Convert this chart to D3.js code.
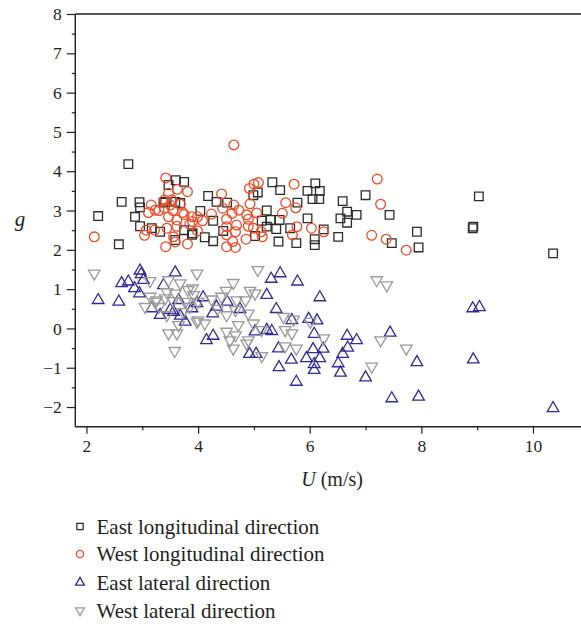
<!DOCTYPE html>
<html>
<head>
<meta charset="utf-8">
<script src="https://cdn.jsdelivr.net/npm/d3@7/dist/d3.min.js"></script>
<style>
  html, body { margin: 0; padding: 0; background: #fff; }
  svg { display: block; }
  text { font-family: "Liberation Serif", "DejaVu Serif", serif; fill: #231f20; }
</style>
</head>
<body>
<svg id="chart" width="581" height="627"></svg>
<script>
// [U (m/s), g]
const eastLongitudinal = [
  [2.21,2.86],[2.58,2.14],[2.63,3.22],[2.75,4.18],[2.87,2.84],[2.95,3.21],[2.96,3.08],[2.96,2.6],
  [3.17,2.55],[3.32,2.46],[3.38,3.2],[3.41,3.22],[3.47,3.65],[3.59,3.22],[3.59,2.25],[3.6,3.77],
  [3.68,3.19],[3.75,3.73],[3.75,2.5],[3.89,2.38],[3.9,2.42],[4.04,2.99],[4.12,2.32],[4.18,3.37],
  [4.27,2.74],[4.27,2.22],[4.33,3.22],[4.45,2.48],[4.52,3.2],[4.99,3.39],[5.02,2.35],[5.07,3.46],
  [5.14,2.74],[5.23,3.0],[5.23,2.59],[5.3,2.76],[5.33,3.72],[5.4,2.53],[5.44,2.21],[5.46,2.76],
  [5.47,3.52],[5.65,2.55],[5.76,2.17],[5.78,3.2],[5.96,3.5],[5.96,2.8],[6.05,3.29],[6.09,2.27],
  [6.09,2.12],[6.1,3.69],[6.17,3.29],[6.18,3.5],[6.25,2.52],[6.51,2.33],[6.55,2.8],[6.59,3.24],
  [6.67,2.97],[6.67,2.69],[6.84,2.89],[7.0,3.39],[7.43,2.89],[7.47,2.17],[7.92,2.46],[7.95,2.06],
  [8.93,2.59],[8.92,2.55],[9.03,3.36],[10.36,1.91]
];
const westLongitudinal = [
  [2.14,2.33],[3.04,2.37],[3.07,2.5],[3.11,2.95],[3.16,3.14],[3.22,2.5],[3.23,3.01],[3.3,3.0],
  [3.4,3.27],[3.4,3.06],[3.42,3.83],[3.42,2.08],[3.44,2.55],[3.47,3.44],[3.47,2.84],[3.5,3.14],
  [3.53,3.27],[3.55,3.0],[3.56,2.33],[3.59,2.2],[3.62,2.76],[3.62,2.6],[3.63,3.54],[3.68,3.16],
  [3.72,2.95],[3.75,2.9],[3.81,3.48],[3.81,2.15],[3.85,2.65],[3.89,2.84],[3.9,2.72],[3.99,2.84],
  [3.99,2.48],[4.08,2.74],[4.24,2.91],[4.42,3.42],[4.44,3.06],[4.51,2.78],[4.51,2.59],[4.51,2.38],
  [4.51,2.08],[4.61,2.93],[4.62,2.21],[4.64,4.67],[4.64,3.14],[4.67,2.46],[4.67,2.06],[4.69,2.63],
  [4.73,3.01],[4.86,2.27],[4.87,2.89],[4.9,2.78],[4.9,2.6],[4.92,3.56],[4.93,3.17],[4.99,2.55],
  [5.0,3.67],[5.05,2.94],[5.08,3.71],[5.13,2.46],[5.15,2.33],[5.51,2.93],[5.57,3.2],[5.69,2.38],
  [5.72,3.67],[5.75,3.07],[5.77,2.59],[6.03,2.55],[6.25,2.46],[7.11,2.37],[7.21,3.8],[7.27,3.16],
  [7.37,2.27],[7.73,1.99]
];
const eastLateral = [
  [2.21,0.72],[2.58,0.68],[2.63,1.15],[2.75,1.19],[2.86,1.02],[2.95,0.89],[2.96,1.47],[2.98,1.38],
  [3.02,1.23],[3.17,0.51],[3.32,0.34],[3.38,1.1],[3.5,0.47],[3.56,0.42],[3.59,1.42],[3.65,0.72],
  [3.68,0.32],[3.77,0.17],[3.89,0.51],[3.98,0.64],[4.09,0.79],[4.15,-0.3],[4.26,0.38],[4.27,-0.19],
  [4.33,0.55],[4.52,0.68],[4.75,0.49],[4.92,-0.65],[5.02,-0.08],[5.04,-0.65],[5.23,0.85],[5.23,-0.04],
  [5.31,1.26],[5.32,-0.07],[5.4,0.49],[5.44,-0.51],[5.45,-0.99],[5.47,1.4],[5.67,-0.8],[5.68,0.21],
  [5.76,-1.36],[5.78,1.19],[5.94,-0.76],[5.98,0.24],[6.06,-0.53],[6.08,-0.14],[6.08,-0.91],[6.08,-1.06],
  [6.13,0.2],[6.18,0.79],[6.18,-0.76],[6.24,-0.52],[6.51,-0.89],[6.55,-1.13],[6.59,-0.65],[6.67,-0.19],
  [6.68,-0.49],[6.84,-0.3],[7.0,-1.25],[7.44,-0.11],[7.47,-1.78],[7.92,-0.86],[7.95,-1.74],[8.92,0.51],
  [9.04,0.54],[8.93,-0.79],[10.36,-2.03]
];
const westLateral = [
  [2.14,1.4],[3.05,0.55],[3.14,1.21],[3.14,0.81],[3.23,0.68],[3.26,0.72],[3.3,0.55],[3.41,0.77],
  [3.44,0.93],[3.44,0.34],[3.47,1.23],[3.47,-0.12],[3.55,0.7],[3.58,-0.57],[3.59,0.89],[3.62,-0.12],
  [3.65,0.09],[3.68,1.15],[3.73,0.42],[3.77,0.68],[3.82,0.98],[3.85,0.55],[3.9,1.02],[3.92,0.85],
  [3.98,1.4],[3.98,0.17],[4.0,0.68],[4.0,0.21],[4.12,0.13],[4.24,0.74],[4.35,0.5],[4.42,0.81],
  [4.5,0.96],[4.51,0.34],[4.51,-0.08],[4.57,-0.3],[4.63,1.16],[4.63,-0.51],[4.67,0.47],[4.67,-0.17],
  [4.69,0.72],[4.72,0.09],[4.85,0.72],[4.87,-0.38],[4.9,0.38],[4.9,-0.3],[4.93,0.96],[4.99,0.13],
  [5.02,0.89],[5.07,1.49],[5.14,-0.04],[5.14,-0.7],[5.53,0.3],[5.56,-0.04],[5.56,-0.45],[5.68,-0.12],
  [5.71,0.23],[5.76,-0.51],[6.01,0.17],[6.25,-0.25],[7.11,-0.97],[7.2,1.23],[7.27,-0.3],[7.38,1.1],
  [7.73,-0.51]
];
const legendLabels = ["East longitudinal direction", "West longitudinal direction",
                      "East lateral direction", "West lateral direction"];
const xTicks = [2, 4, 6, 8, 10];
const xMinorTicks = [3, 5, 7, 9];
const yTicks = [-2, -1, 0, 1, 2, 3, 4, 5, 6, 7, 8];
const yMinorTicks = [-1.5, -0.5, 0.5, 1.5, 2.5, 3.5, 4.5, 5.5, 6.5, 7.5];

const svg = d3.select("#chart");
const plotLeft = 75.3, plotRight = 581, plotTop = 14, plotBottom = 426.7;

const x = d3.scaleLinear().domain([1.8, 10.86]).range([plotLeft, plotRight]);
const y = d3.scaleLinear().domain([-2.5, 8]).range([plotBottom, plotTop]);

const axisColor = "#231f20";

const series = [
  { data: eastLongitudinal, type: d3.symbolSquare, size: 74, rot: 0, color: "#2b2b2b" },
  { data: westLongitudinal, type: d3.symbolCircle, size: 74, rot: 0, color: "#f04a26" },
  { data: eastLateral, type: d3.symbolTriangle, size: 58, rot: 0, color: "#2e2a96" },
  { data: westLateral, type: d3.symbolTriangle, size: 58, rot: 180, color: "#9a9a9a" }
];

series.forEach(s => {
  const path = d3.symbol().type(s.type).size(s.size)();
  svg.append("g").selectAll("path")
    .data(s.data)
    .join("path")
    .attr("d", path)
    .attr("transform", d => `translate(${x(d[0])},${y(d[1])}) rotate(${s.rot})`)
    .attr("fill", "none")
    .attr("stroke", s.color)
    .attr("stroke-width", 1.3);
});

// x axis
const gx = svg.append("g").attr("transform", `translate(0,${plotBottom})`)
  .call(d3.axisBottom(x).tickValues(xTicks).tickSize(7).tickPadding(6).tickFormat(d3.format("d")));
gx.select(".domain").attr("d", `M${plotLeft},0H${plotRight}`).attr("stroke", axisColor).attr("stroke-width", 1.4);
gx.selectAll("line").attr("stroke", axisColor).attr("stroke-width", 1.2);
gx.selectAll("text").attr("font-size", 17.5).attr("font-family", "Liberation Serif").attr("fill", axisColor);
svg.append("g").attr("transform", `translate(0,${plotBottom})`)
  .call(d3.axisBottom(x).tickValues(xMinorTicks).tickSize(3.5).tickFormat(""))
  .call(g => g.select(".domain").remove())
  .selectAll("line").attr("stroke", axisColor).attr("stroke-width", 1.2);

// y axis
const gy = svg.append("g").attr("transform", `translate(${plotLeft},0)`)
  .call(d3.axisLeft(y).tickValues(yTicks).tickSize(8.5).tickPadding(5)
    .tickFormat(d => d < 0 ? "\u2212" + Math.abs(d) : d));
gy.select(".domain").attr("d", `M0,${plotBottom}V${plotTop}`).attr("stroke", axisColor).attr("stroke-width", 1.4);
gy.selectAll("line").attr("stroke", axisColor).attr("stroke-width", 1.2);
gy.selectAll("text").attr("font-size", 17.5).attr("font-family", "Liberation Serif").attr("fill", axisColor);
svg.append("g").attr("transform", `translate(${plotLeft},0)`)
  .call(d3.axisLeft(y).tickValues(yMinorTicks).tickSize(3.5).tickFormat(""))
  .call(g => g.select(".domain").remove())
  .selectAll("line").attr("stroke", axisColor).attr("stroke-width", 1.2);

// top frame
svg.append("line").attr("x1", plotLeft).attr("x2", plotRight).attr("y1", plotTop).attr("y2", plotTop)
  .attr("stroke", axisColor).attr("stroke-width", 1.4);

// axis titles
const xt = svg.append("text").attr("x", x(6.4)).attr("y", 486).attr("text-anchor", "middle")
  .attr("font-size", 20);
xt.append("tspan").attr("font-style", "italic").text("U");
xt.append("tspan").text(" (m/s)");
svg.append("text").attr("x", 20).attr("y", 226).attr("text-anchor", "middle")
  .attr("font-size", 21).attr("font-style", "italic").text("g");

// legend
const legendY = [526.5, 554, 582.5, 610.5];
const legendSizes = [40, 40, 34, 34];
const legend = svg.append("g");
series.forEach((s, i) => {
  legend.append("path")
    .attr("d", d3.symbol().type(s.type).size(legendSizes[i])())
    .attr("transform", `translate(80,${legendY[i]}) rotate(${s.rot})`)
    .attr("fill", "none").attr("stroke", s.color).attr("stroke-width", 1.3);
  legend.append("text").attr("x", 96.5).attr("y", legendY[i]).attr("dy", "0.35em")
    .attr("font-size", 21).text(legendLabels[i]);
});
</script>
</body>
</html>
